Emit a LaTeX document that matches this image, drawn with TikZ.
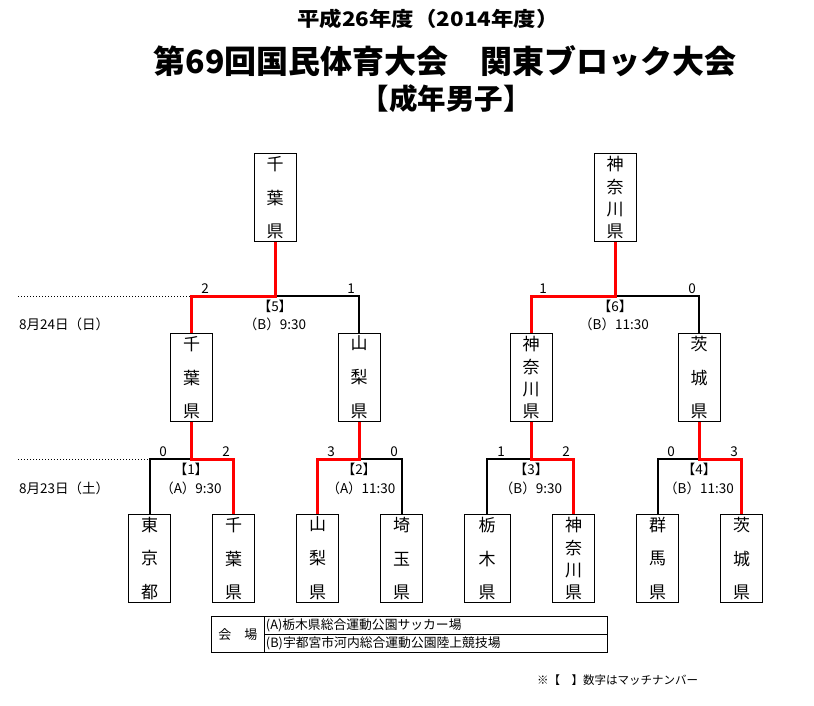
\documentclass[tikz,border=0pt]{standalone}
\usepackage{fontspec}
\setmainfont{Noto Sans CJK JP}
\usetikzlibrary{calc}
\newcommand\onech[1]{\hbox to 1em{\hss#1\hss}}
\newcommand\vcol[2]{\vbox to #1{\offinterlineskip #2\vskip0pt}}
\newcommand\three[3]{\vcol{83pt}{\onech{#1}\vfill\onech{#2}\vfill\onech{#3}}}
\newcommand\four[4]{\vcol{83pt}{\onech{#1}\vfill\onech{#2}\vfill\onech{#3}\vfill\onech{#4}}}
\definecolor{winred}{RGB}{255,0,0}
\tikzset{
  prefbox/.style={draw, line width=0.9pt, minimum width=42pt, inner xsep=0pt, inner ysep=2.5pt, anchor=north, font=\fontsize{17}{17}\selectfont},
  blkl/.style={line width=2pt, black},
  redl/.style={line width=3pt, winred},
  dotl/.style={line width=0.8pt, dash pattern=on 1pt off 2pt},
  lbl/.style={inner sep=0pt, font=\fontsize{13.5}{14}\selectfont},
  score/.style={inner sep=0pt, font=\fontsize{13.5}{14}\selectfont},
}
\begin{document}
\begin{tikzpicture}[x=1pt,y=-1pt]
\useasboundingbox (0,0) rectangle (814,705);
% titles
\node[inner sep=0pt] (t1) at (428,19) {\fontsize{20}{20}\selectfont\bfseries\scalebox{1.12}[1]{平成26年度（2014年度）}};
\node[inner sep=0pt] (t2) at (445,61) {\fontsize{32}{32}\selectfont\bfseries 第69回国民体育大会　関東ブロック大会};
\node[inner sep=0pt] (t3) at (446,99) {\fontsize{28.5}{28.5}\selectfont\bfseries 【成年男子】};
% level coordinates
\coordinate (yR2) at (0,296);
\coordinate (yR1) at (0,459);
\coordinate (d2) at (18,296);
\coordinate (d1) at (18,459);
% top boxes
\node[prefbox] (topC) at (275,153) {\three{千}{葉}{県}};
\node[prefbox] (topK) at (615,153) {\four{神}{奈}{川}{県}};
% middle boxes
\node[prefbox] (midC) at (191.5,333) {\three{千}{葉}{県}};
\node[prefbox] (midY) at (359,333) {\three{山}{梨}{県}};
\node[prefbox] (midK) at (531,333) {\four{神}{奈}{川}{県}};
\node[prefbox] (midI) at (699,333) {\three{茨}{城}{県}};
% bottom boxes
\node[prefbox] (bT) at (149.5,514) {\three{東}{京}{都}};
\node[prefbox] (bC) at (233.5,514) {\three{千}{葉}{県}};
\node[prefbox] (bY) at (317.5,514) {\three{山}{梨}{県}};
\node[prefbox] (bS) at (401.5,514) {\three{埼}{玉}{県}};
\node[prefbox, minimum width=46pt] (bTo) at (487,514) {\three{栃}{木}{県}};
\node[prefbox] (bK) at (573.5,514) {\four{神}{奈}{川}{県}};
\node[prefbox] (bG) at (657.5,514) {\three{群}{馬}{県}};
\node[prefbox] (bI) at (741.5,514) {\three{茨}{城}{県}};
% dotted guide lines
\draw[dotl] (d2) -- (midC.north |- yR2);
\draw[dotl] (d1) -- (bT.north |- yR1);
% round 2 brackets
\draw[blkl] (topC.south |- yR2) -| (midY.north);
\draw[redl] (topC.south) -- (topC.south |- yR2) -| (midC.north);
\draw[blkl] (topK.south |- yR2) -| (midI.north);
\draw[redl] (topK.south) -- (topK.south |- yR2) -| (midK.north);
% round 1 brackets
\draw[blkl] (midC.south |- yR1) -| (bT.north);
\draw[redl] (midC.south) -- (midC.south |- yR1) -| (bC.north);
\draw[blkl] (midY.south |- yR1) -| (bS.north);
\draw[redl] (midY.south) -- (midY.south |- yR1) -| (bY.north);
\draw[blkl] (midK.south |- yR1) -| (bTo.north);
\draw[redl] (midK.south) -- (midK.south |- yR1) -| (bK.north);
\draw[blkl] (midI.south |- yR1) -| (bG.north);
\draw[redl] (midI.south) -- (midI.south |- yR1) -| (bI.north);
% scores
\node[score] (s5a) at (205,289) {2};
\node[score] (s5b) at (351,289) {1};
\node[score] (s6a) at (543,289) {1};
\node[score] (s6b) at (692,289) {0};
\node[score] (s1a) at (163,452) {0};
\node[score] (s1b) at (226,452) {2};
\node[score] (s2a) at (331,452) {3};
\node[score] (s2b) at (394,452) {0};
\node[score] (s3a) at (501,452) {1};
\node[score] (s3b) at (566,452) {2};
\node[score] (s4a) at (671,452) {0};
\node[score] (s4b) at (734,452) {3};
% match labels
\node[lbl] (m5) at (275,306) {【5】};
\node[lbl] (m5t) at (275,324) {（B）9:30};
\node[lbl] (m6) at (615,306) {【6】};
\node[lbl] (m6t) at (614,324) {（B）11:30};
\node[lbl] (m1) at (191,469) {【1】};
\node[lbl] (m1t) at (191,488) {（A）9:30};
\node[lbl] (m2) at (359,469) {【2】};
\node[lbl] (m2t) at (361,488) {（A）11:30};
\node[lbl] (m3) at (531,469) {【3】};
\node[lbl] (m3t) at (531,488) {（B）9:30};
\node[lbl] (m4) at (699,469) {【4】};
\node[lbl] (m4t) at (699,488) {（B）11:30};
% dates
\node[lbl, anchor=west] (date2) at (19,324) {8月24日（日）};
\node[lbl, anchor=west] (date1) at (19,488) {8月23日（土）};
% venue table
\node[draw, line width=0.9pt, anchor=north west, minimum width=53pt, minimum height=36pt, inner sep=0pt, font=\fontsize{13}{13}\selectfont] (vlab) at (211,616) {会　場};
\node[draw, line width=0.9pt, anchor=north west, text width=340pt, align=left, inner xsep=1.5pt, inner ysep=0pt, minimum height=18pt, font=\fontsize{12.8}{13}\selectfont] (va) at (264,616) {(A)栃木県総合運動公園サッカー場};
\node[draw, line width=0.9pt, anchor=north west, text width=340pt, align=left, inner xsep=1.5pt, inner ysep=0pt, minimum height=18pt, font=\fontsize{12.8}{13}\selectfont] (vb) at (264,634) {(B)宇都宮市河内総合運動公園陸上競技場};
% footnote
\node[inner sep=0pt, anchor=west, font=\fontsize{11.5}{12}\selectfont] (note) at (537,680) {※【　】数字はマッチナンバー};
\end{tikzpicture}
\end{document}
